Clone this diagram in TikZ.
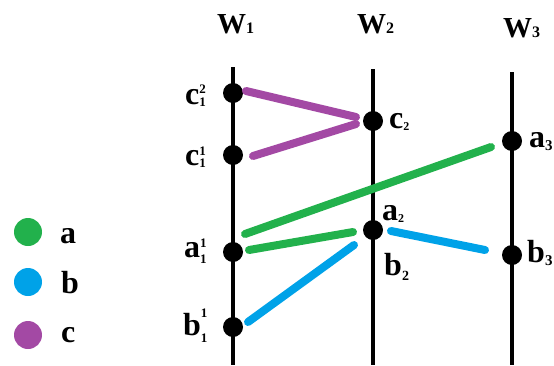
\documentclass[tikz,border=0pt]{standalone}
\usepackage{fontspec}
\setmainfont{Liberation Serif}
\definecolor{pgreen}{RGB}{34,177,76}
\definecolor{pblue}{RGB}{0,162,232}
\definecolor{ppurple}{RGB}{163,73,164}
\newcommand{\smallfs}[1]{\fontsize{#1}{#1}\selectfont}
% base, sub, sup, sub drop (pt), sup raise (pt)
\newcommand{\lbl}[5]{#1\makebox[0pt][l]{\raisebox{#5pt}{\smallfs{13}#3}}\raisebox{-#4pt}{\smallfs{13}#2}}
% base, sub, size, drop
\newcommand{\lsub}[4]{#1\raisebox{-#4pt}{\smallfs{#3}#2}}
\begin{document}
\begin{tikzpicture}[x=1pt,y=-1pt,
  wire/.style={line width=4pt},
  dot/.style={circle,fill=black,inner sep=0pt,minimum size=20pt},
  link/.style={line width=8pt,line cap=round},
  lab/.style={font=\bfseries\smallfs{32},inner sep=0pt,anchor=base west},
  head/.style={font=\bfseries\smallfs{29},inner sep=0pt,anchor=base west},
  legdot/.style={circle,inner sep=0pt,minimum size=28pt}]
\useasboundingbox (0,0) rectangle (554,365);
% wires
\coordinate (t1) at (233,67); \coordinate (e1) at (233,365);
\coordinate (t2) at (373,69); \coordinate (e2) at (373,365);
\coordinate (t3) at (512,72); \coordinate (e3) at (512,365);
\draw[wire] (t1) -- (e1);
\draw[wire] (t2) -- (e2);
\draw[wire] (t3) -- (e3);
% headers
\node[head] (W1) at (217,33) {\lsub{W}{1}{16}{0}};
\node[head] (W2) at (357,33) {\lsub{W}{2}{16}{0}};
\node[head] (W3) at (503,37) {\lsub{W}{3}{16}{0}};
% dots
\node[dot] (c12) at (233,93) {};
\node[dot] (c11) at (233,155) {};
\node[dot] (a11) at (233,252) {};
\node[dot] (b11) at (233,327) {};
\node[dot] (c2) at (373,121) {};
\node[dot] (a2) at (373,230) {};
\node[dot] (a3) at (512,141) {};
\node[dot] (b3) at (512,255) {};
% link end points
\coordinate (p1s) at (246,91);  \coordinate (p1e) at (356,117);
\coordinate (p2s) at (253,156); \coordinate (p2e) at (356,124);
\coordinate (g1s) at (245,234); \coordinate (g1e) at (491,147);
\coordinate (g2s) at (249,250); \coordinate (g2e) at (353,232);
\coordinate (bl1s) at (248,322); \coordinate (bl1e) at (354,245);
\coordinate (bl2s) at (391,231); \coordinate (bl2e) at (485,250);
\draw[link,ppurple] (p1s) -- (p1e);
\draw[link,ppurple] (p2s) -- (p2e);
\draw[link,pgreen] (g1s) -- (g1e);
\draw[link,pgreen] (g2s) -- (g2e);
\draw[link,pblue] (bl1s) -- (bl1e);
\draw[link,pblue] (bl2s) -- (bl2e);
% labels
\node[lab] (lc12) at (185,104) {\lbl{c}{1}{2}{2}{11}};
\node[lab] (lc11) at (185,165) {\lbl{c}{1}{1}{2}{10}};
\node[lab] (la11) at (184,257) {\lbl{a}{1}{1}{6}{10}};
\node[lab] (lb11) at (183,335) {\lbl{b}{1}{1}{7}{18}};
\node[lab] (lc2) at (389,128) {\lsub{c}{2}{12}{2}};
\node[lab] (la3) at (529,147) {\lsub{a}{3}{15}{3}};
\node[lab] (la2) at (382,220) {\lsub{a}{2}{12}{2}};
\node[lab] (lb2) at (384,275) {\lsub{b}{2}{14}{5}};
\node[lab] (lb3) at (527,262) {\lsub{b}{3}{15}{3}};
% legend
\node[legdot,fill=pgreen] (ga) at (28,232) {};
\node[legdot,fill=pblue] (gb) at (28,282) {};
\node[legdot,fill=ppurple] (gc) at (28,335) {};
\node[lab] (ta) at (60,243) {a};
\node[lab] (tb) at (61,293) {b};
\node[lab] (tc) at (61,342) {c};
\end{tikzpicture}
\end{document}
